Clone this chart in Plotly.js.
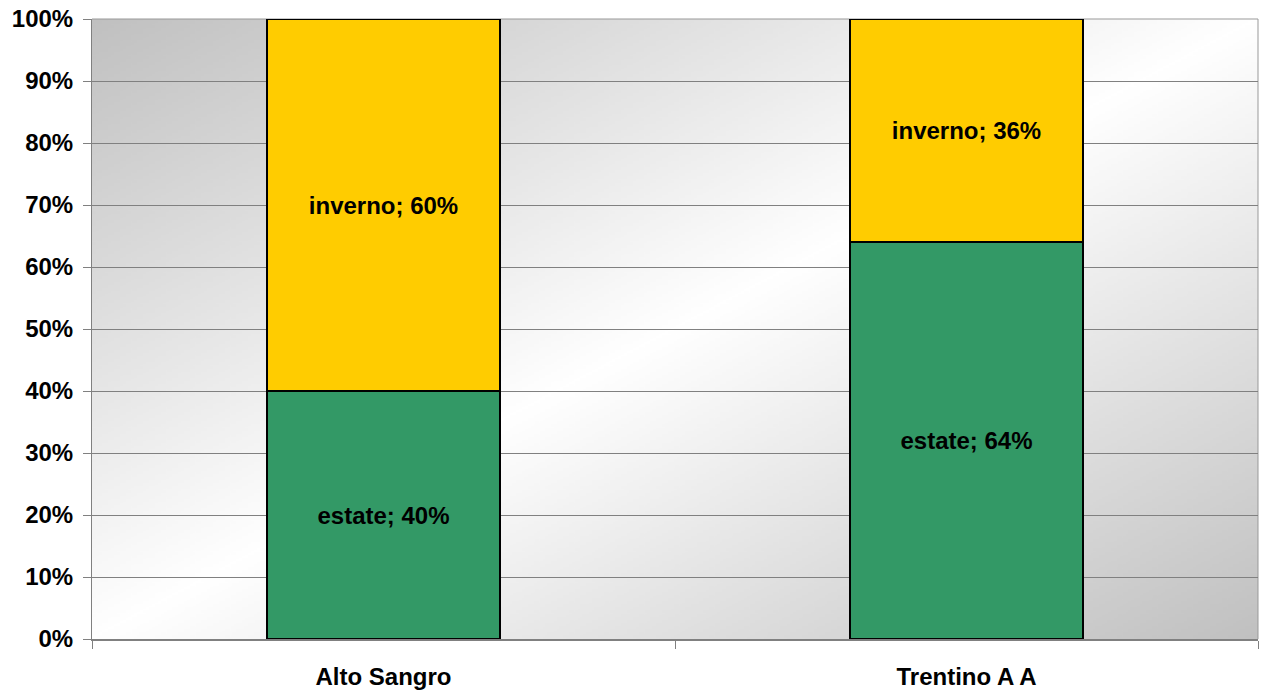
<!DOCTYPE html>
<html>
<head>
<meta charset="utf-8">
<script src="https://cdn.plot.ly/plotly-3.0.1.min.js"></script>
<style>html,body{margin:0;padding:0;background:#fff;}#chart{width:1263px;height:692px;}</style>
</head>
<body>
<div id="chart"></div>
<script>
var categories = ['Alto Sangro', 'Trentino A A'];
var seriesNames = ['estate', 'inverno'];
var estate = [40, 64];
var inverno = [60, 36];
var yTickVals = [0, 10, 20, 30, 40, 50, 60, 70, 80, 90, 100];

// gradient background image (diagonal gray-white-gray)
var cv = document.createElement('canvas');
cv.width = 400; cv.height = 400;
var ctx = cv.getContext('2d');
var g = ctx.createLinearGradient(0, 0, 400, 400);
g.addColorStop(0, '#c0c0c0');
g.addColorStop(0.5, '#ffffff');
g.addColorStop(1, '#c0c0c0');
ctx.fillStyle = g;
ctx.fillRect(0, 0, 400, 400);
var bgUrl = cv.toDataURL('image/png');

var fontBase = {family: 'Liberation Sans, Arial, sans-serif', size: 24, color: '#000000', weight: 700};

function makeTrace(name, vals, color) {
  return {
    type: 'bar', name: name, x: categories, y: vals,
    marker: {color: color, line: {color: '#000000', width: 1.5}},
    text: vals.map(function (v) { return name + '; ' + v + '%'; }),
    textposition: 'inside', insidetextanchor: 'middle', textangle: 0,
    insidetextfont: fontBase, hoverinfo: 'none', cliponaxis: false
  };
}

var data = [
  makeTrace(seriesNames[0], estate, '#339966'),
  makeTrace(seriesNames[1], inverno, '#FFCC00')
];

var layout = {
  width: 1263, height: 692,
  margin: {l: 92, r: 5, t: 19, b: 53},
  barmode: 'stack', bargap: 0.6,
  showlegend: false,
  paper_bgcolor: '#ffffff',
  plot_bgcolor: 'rgba(0,0,0,0)',
  images: [{source: bgUrl, xref: 'paper', yref: 'paper', x: 0, y: 1, sizex: 1, sizey: 1,
            sizing: 'stretch', xanchor: 'left', yanchor: 'top', layer: 'below'}],
  xaxis: {
    type: 'category', tickson: 'boundaries', ticks: 'outside', ticklen: 8, tickcolor: '#808080',
    showgrid: false, showline: true, linecolor: '#808080', linewidth: 2,
    tickfont: fontBase, fixedrange: true, ticklabelstandoff: 15
  },
  yaxis: {
    range: [0, 100], tickvals: yTickVals, ticktext: yTickVals.map(function (v) { return v + '%'; }),
    ticks: 'outside', ticklen: 8, tickcolor: '#808080',
    showgrid: true, gridcolor: '#808080', gridwidth: 1,
    showline: true, linecolor: '#808080', linewidth: 1,
    zeroline: false, tickfont: fontBase, fixedrange: true, ticklabelstandoff: 5
  },
  shapes: [
    {type: 'line', xref: 'paper', yref: 'paper', x0: 0, x1: 1, y0: 1, y1: 1, line: {color: '#999999', width: 1}, layer: 'below'},
    {type: 'line', xref: 'paper', yref: 'paper', x0: 1, x1: 1, y0: 0, y1: 1, line: {color: '#999999', width: 1}, layer: 'below'}
  ]
};

Plotly.newPlot('chart', data, layout, {displayModeBar: false, staticPlot: true});
</script>
</body>
</html>
